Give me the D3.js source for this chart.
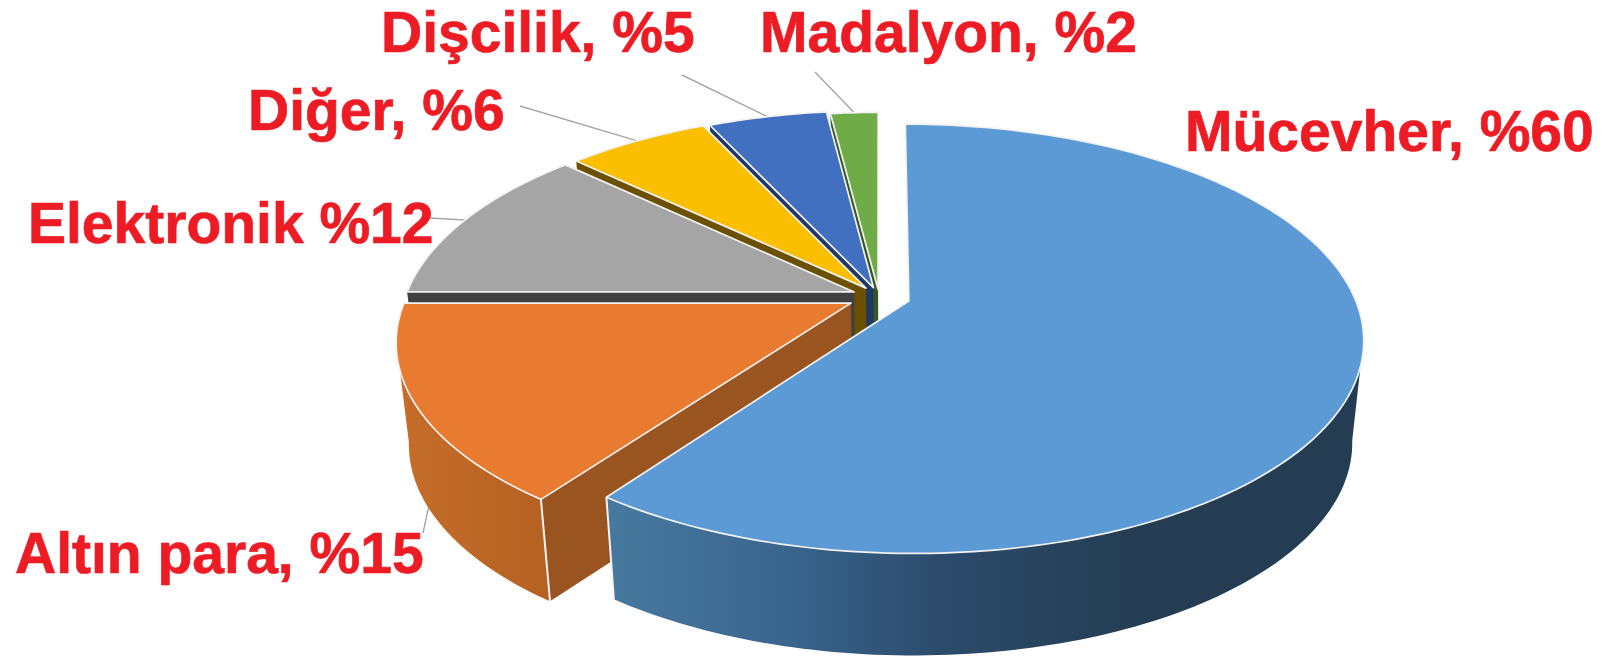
<!DOCTYPE html>
<html lang="tr">
<head>
<meta charset="utf-8">
<title>Altın kullanımı</title>
<script src="https://cdn.jsdelivr.net/npm/d3@7/dist/d3.min.js"></script>
<style>
  html, body { margin: 0; padding: 0; background: #fff; }
  svg { display: block; filter: blur(0.55px); }
  text { font-family: "Liberation Sans", Arial, sans-serif; font-weight: 700; font-size: 57px; fill: #ED1C24; stroke: #ED1C24; stroke-width: 0.7px; }
</style>
</head>
<body>
<svg id="chart" width="1606" height="662"></svg>
<script>
// ---- data ----
const categories = ["Mücevher", "Altın para", "Elektronik", "Diğer", "Dişcilik", "Madalyon"];
const values = [60, 15, 12, 6, 5, 2];
const labels = ["Mücevher, %60", "Altın para, %15", "Elektronik %12", "Diğer, %6", "Dişcilik, %5", "Madalyon, %2"];

// ---- styles ----
const topColors = ["#5B9AD5", "#E97B30", "#A5A5A5", "#FCBF00", "#4170C0", "#6FAB47"];
const faceColors = ["#3f6d96", "#9A5420", "#404040", "#6B5000", "#1F3864", "#385723"];
const explode = [0.07, 0.07, 0.06, 0.05, 0.045, 0.035];
const labelAnchors = [[1185, 151], [15, 573], [28, 243], [248, 130], [381, 52], [760, 52]];
const leaderStarts = [null, [423, 533], [430, 218], [520, 106], [682, 75], [815, 72]];

// ---- projection of the tilted disc ----
const cx = 879, cy = 296.5, rxScale = 447, ryScale = 208, persp = -0.176, shearRate = 1 / 1500;
const depth = 102, vanishX = 905, taper = 0.975;

function project(u, v, shear) {
  const d = 1 + persp * v;
  const y = ryScale * v / d;
  return [rxScale * u / d + (shear || 0) * y, y];
}

const svg = d3.select("#chart");
const defs = svg.append("defs");

function addGradient(id, stops, x1, x2) {
  const g = defs.append("linearGradient").attr("id", id)
    .attr("gradientUnits", "userSpaceOnUse")
    .attr("x1", x1).attr("x2", x2).attr("y1", 0).attr("y2", 0);
  stops.forEach(s => g.append("stop").attr("offset", s[0]).attr("stop-color", s[1]));
}
addGradient("wall0", [[0, "#47799F"], [0.32, "#3A668F"], [0.62, "#2C4B6C"], [1, "#243D52"]], 607, 1140);
addGradient("wall1", [[0, "#C66D2A"], [1, "#B56122"]], 397, 550);

const arcs = d3.pie().sort(null).value(d => d).startAngle(0).endAngle(2 * Math.PI)(values);
const line = d3.line();
const lower = p => [vanishX + (p[0] - vanishX) * taper, p[1] + depth];

const sliceData = arcs.map((a, i) => {
  const mid = (a.startAngle + a.endAngle) / 2;
  const off = project(explode[i] * Math.sin(mid), -explode[i] * Math.cos(mid));
  const apex = [cx + off[0], cy + off[1]];
  const shear = off[0] * shearRate;
  const at = t => { const p = project(Math.sin(t), -Math.cos(t), shear); return [apex[0] + p[0], apex[1] + p[1]]; };
  return { i, a, mid, apex, at };
});

function arcPts(s, t0, t1) {
  const n = Math.max(2, Math.ceil((t1 - t0) / 0.02));
  return d3.range(n + 1).map(k => s.at(t0 + (t1 - t0) * k / n));
}

// leader lines
const leaders = sliceData.filter(s => leaderStarts[s.i]);
svg.append("g").selectAll("line").data(leaders).join("line")
  .attr("x1", s => leaderStarts[s.i][0]).attr("y1", s => leaderStarts[s.i][1])
  .attr("x2", s => (s.i === 1 ? lower(s.at(s.mid)) : s.at(s.mid))[0])
  .attr("y2", s => (s.i === 1 ? lower(s.at(s.mid)) : s.at(s.mid))[1])
  .attr("stroke", "#A6A6A6").attr("stroke-width", 1.4);

// far slices first, so that nearer ones overlap them
const order = d3.range(values.length).slice(1).reverse().concat([0]);
const wallMin = 100 * Math.PI / 180, wallMax = 260 * Math.PI / 180;

order.forEach(idx => {
  const s = sliceData[idx];
  const g = svg.append("g").attr("data-category", categories[idx]);
  const t0 = s.a.startAngle, t1 = s.a.endAngle;

  if (idx > 0) {
    const pOuter = s.at(t0);
    g.append("path")
      .attr("d", line([s.apex, pOuter, lower(pOuter), lower(s.apex)]) + "Z")
      .attr("fill", faceColors[idx]);
  }

  const w0 = Math.max(t0, wallMin), w1 = Math.min(t1, wallMax);
  if (w1 > w0) {
    const rim = arcPts(s, w0, w1);
    g.append("path")
      .attr("d", line(rim.concat(rim.map(lower).reverse())) + "Z")
      .attr("fill", `url(#wall${idx})`);
    const corner = idx === 0 ? s.at(t1) : s.at(t0);
    g.append("line")
      .attr("x1", corner[0]).attr("y1", corner[1])
      .attr("x2", lower(corner)[0]).attr("y2", lower(corner)[1])
      .attr("stroke", "#F4F4F4").attr("stroke-width", 2);
  }

  g.append("path")
    .attr("d", line([s.apex].concat(arcPts(s, t0, t1))) + "Z")
    .attr("fill", topColors[idx])
    .attr("stroke", "#F2F2F2").attr("stroke-width", 1.7).attr("stroke-linejoin", "round");
});

// labels
svg.append("g").selectAll("text").data(labels).join("text")
  .attr("x", (d, i) => labelAnchors[i][0])
  .attr("y", (d, i) => labelAnchors[i][1])
  .text(d => d);
</script>
</body>
</html>
